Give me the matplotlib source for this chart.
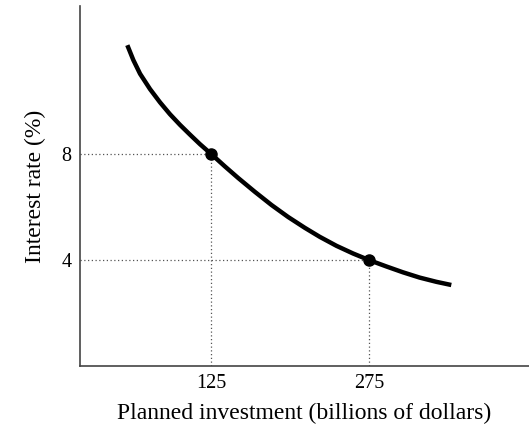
import matplotlib
matplotlib.use("Agg")
import matplotlib.pyplot as plt

# Data
curve_x = [45.0, 50.7, 57.1, 66.6, 76.1, 85.6, 95.1, 104.6, 114.1, 125.0,
           137.8, 150.5, 166.3, 182.2, 197.9, 213.8, 228.0, 243.9, 259.7, 275.0,
           291.4, 307.1, 323.0, 338.9, 353.1]
curve_y = [12.12, 11.56, 11.04, 10.46, 9.96, 9.51, 9.11, 8.74, 8.38, 8.00,
           7.54, 7.10, 6.58, 6.08, 5.63, 5.22, 4.88, 4.54, 4.25, 4.00,
           3.76, 3.54, 3.34, 3.18, 3.06]
point_x = [125, 275]
point_y = [8, 4]
x_ticks = [125, 275]
y_ticks = [4, 8]
x_label = "Planned investment (billions of dollars)"
y_label = "Interest rate (%)"

plt.rcParams['font.family'] = ['Liberation Serif', 'DejaVu Serif']

fig = plt.figure(figsize=(5.29, 4.25), dpi=100)
ax = fig.add_axes([80/529, 1 - 366/425, 1 - 80/529, (366 - 6)/425])

ax.set_xlim(0, 427)
ax.set_ylim(0, 13.6)

for xv, yv in zip(point_x, point_y):
    ax.plot([0, xv], [yv, yv], linestyle=(0, (1, 2)), color='#555555', linewidth=0.9)
    ax.plot([xv, xv], [0, yv], linestyle=(0, (1, 2)), color='#555555', linewidth=0.9)

ax.plot(curve_x, curve_y, color='black', linewidth=3.2, solid_capstyle='butt', solid_joinstyle='round')
ax.plot(point_x, point_y, 'o', color='black', markersize=8)

ax.set_xticks(x_ticks)
ax.set_yticks(y_ticks)
ax.tick_params(length=0, labelsize=14.5, pad=6)
ax.set_xlabel(x_label, fontsize=17, labelpad=7)
ax.set_ylabel(y_label, fontsize=17, labelpad=11)

for s in ['top', 'right']:
    ax.spines[s].set_visible(False)
for s in ['left', 'bottom']:
    ax.spines[s].set_color('#444444')
    ax.spines[s].set_linewidth(1.2)

fig.savefig("out.png", dpi=100)
